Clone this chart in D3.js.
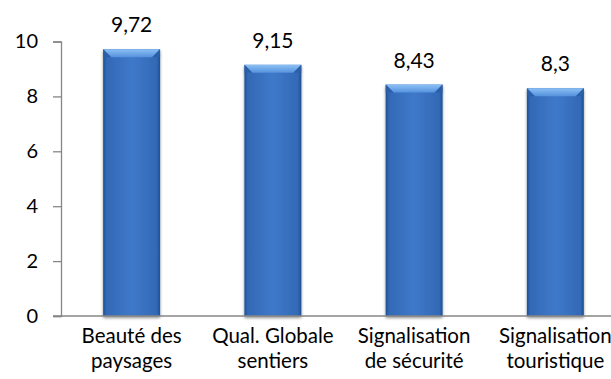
<!DOCTYPE html>
<html><head><meta charset="utf-8">
<script src="https://cdn.jsdelivr.net/npm/d3@7"></script>
<style>body{margin:0;background:#fff}svg{display:block}text{font-family:Lato,"Open Sans",sans-serif;fill:#000}</style>
</head><body><svg id="c" width="611" height="379"></svg>
<script>
const categories = [["Beauté des","paysages"],["Qual. Globale","sentiers"],["Signalisation","de sécurité"],["Signalisation","touristique"]];
const values = [9.72, 9.15, 8.43, 8.3];
const valueLabels = ["9,72","9,15","8,43","8,3"];
const yTicks = [0,2,4,6,8,10];

const svg = d3.select("#c");
const x0 = 61, x1 = 626, yBase = 316, yTop = 41.5;
const x = d3.scaleBand().domain(d3.range(categories.length)).range([x0,x1]).paddingInner(0.597).paddingOuter(0.2985);
const y = d3.scaleLinear().domain([0,10]).range([yBase,yTop]);

const defs = svg.append("defs");
const g1 = defs.append("linearGradient").attr("id","body").attr("x1",0).attr("x2",1).attr("y1",0).attr("y2",0);
[[0,"#1f4f94"],[0.06,"#3369b6"],[0.5,"#3e79c9"],[0.94,"#3369b6"],[1,"#1f4f94"]].forEach(s=>g1.append("stop").attr("offset",s[0]).attr("stop-color",s[1]));
const g2 = defs.append("linearGradient").attr("id","bev").attr("x1",0).attr("x2",0).attr("y1",0).attr("y2",1);
[[0,"#8cc0f5"],[1,"#5592dd"]].forEach(s=>g2.append("stop").attr("offset",s[0]).attr("stop-color",s[1]));
const f = defs.append("filter").attr("id","sh").attr("x","-20%").attr("y","-20%").attr("width","140%").attr("height","140%");
f.append("feGaussianBlur").attr("in","SourceAlpha").attr("stdDeviation",1.5);
f.append("feOffset").attr("dx",0).attr("dy",1.5).attr("result","b");
f.append("feComponentTransfer").append("feFuncA").attr("type","linear").attr("slope",0.45);
const m = f.append("feMerge"); m.append("feMergeNode"); m.append("feMergeNode").attr("in","SourceGraphic");

// axes
const yAxis = svg.append("g").attr("transform",`translate(${x0},0)`)
  .call(d3.axisLeft(y).tickValues(yTicks).tickSize(8).tickPadding(15).tickFormat(d3.format("d")));
yAxis.select(".domain").attr("stroke","#868686").attr("stroke-width",1.3);
yAxis.selectAll(".tick line").attr("stroke","#868686").attr("stroke-width",1.3);
yAxis.selectAll(".tick text").attr("font-size",20).attr("font-family","Lato,'Open Sans',sans-serif").attr("fill","#000");

// bars
const bars = svg.append("g").selectAll("g").data(values).join("g").attr("filter","url(#sh)");
const bw = x.bandwidth(), bv = 8;
bars.append("rect").attr("x",(d,i)=>x(i)).attr("y",d=>y(d)).attr("width",bw).attr("height",d=>yBase-y(d)).attr("fill","url(#body)");
bars.append("path").attr("fill","url(#bev)").attr("d",(d,i)=>{const a=x(i),t=y(d);return `M${a},${t}L${a+bw},${t}L${a+bw-bv},${t+bv}L${a+bv},${t+bv}Z`;});
bars.append("path").attr("fill","#2b5fa8").attr("opacity",0.8).attr("d",(d,i)=>{const a=x(i),t=y(d);return `M${a},${t}L${a+bv},${t+bv}L${a+3},${t+bv}L${a},${t+bv}Z`;});
bars.append("path").attr("fill","#2b5fa8").attr("opacity",0.8).attr("d",(d,i)=>{const a=x(i)+bw,t=y(d);return `M${a},${t}L${a-bv},${t+bv}L${a-3},${t+bv}L${a},${t+bv}Z`;});

// x axis line
svg.append("line").attr("x1",x0-8).attr("x2",611).attr("y1",yBase).attr("y2",yBase).attr("stroke","#868686").attr("stroke-width",1.3);

// value labels
svg.append("g").selectAll("text").data(values).join("text")
  .attr("x",(d,i)=>x(i)+bw/2).attr("y",d=>y(d)-17).attr("text-anchor","middle").attr("font-size",21)
  .text((d,i)=>valueLabels[i]);

// category labels
const cl = svg.append("g").selectAll("text").data(categories).join("text")
  .attr("x",(d,i)=>x(i)+bw/2).attr("y",343).attr("text-anchor","middle").attr("font-size",20.5);
cl.each(function(d){const t=d3.select(this);d.forEach((s,k)=>t.append("tspan").attr("x",t.attr("x")).attr("dy",k?25:0).text(s));});
</script></body></html>
